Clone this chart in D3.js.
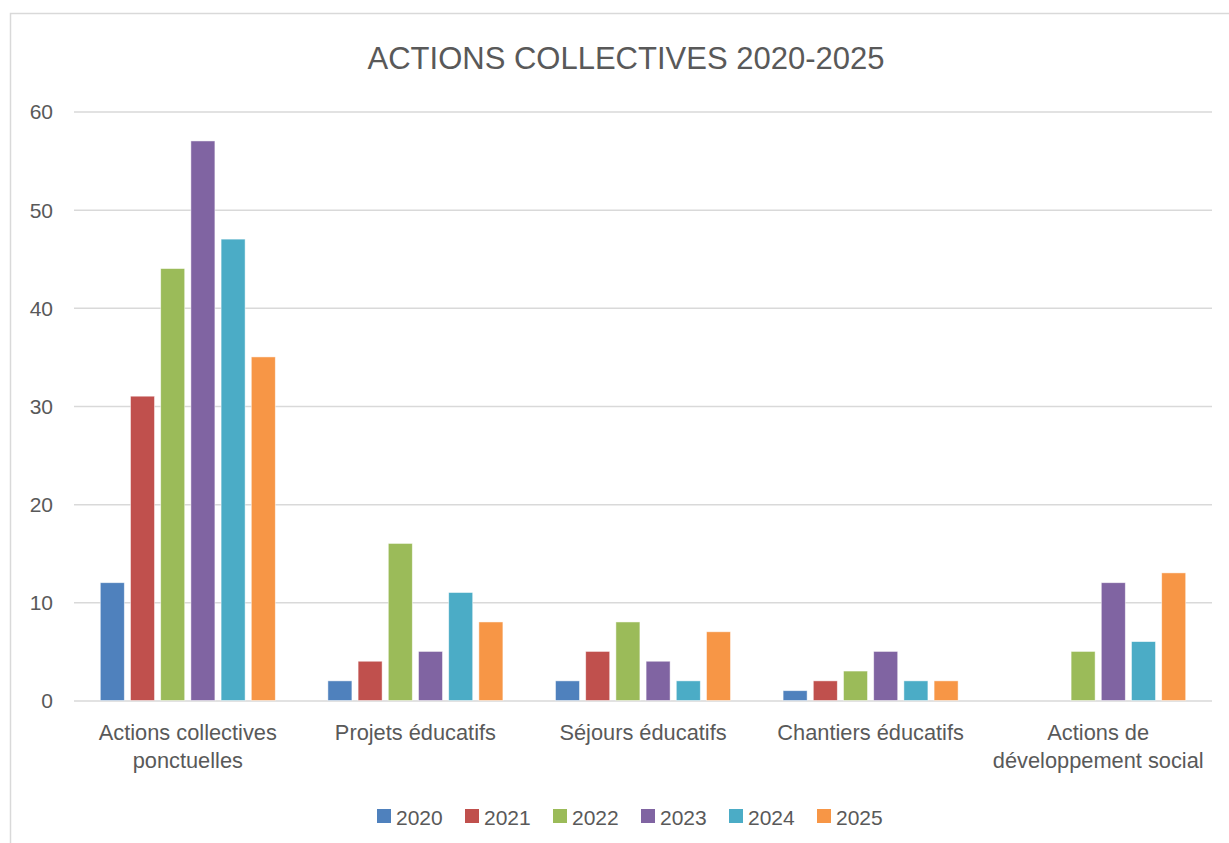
<!DOCTYPE html>
<html><head><meta charset="utf-8">
<script src="https://cdn.jsdelivr.net/npm/d3@7/dist/d3.min.js"></script>
<style>body{margin:0;background:#fff}svg{display:block}text{font-family:"Liberation Sans",Arial,sans-serif;fill:#595959}</style>
</head><body><svg id="c" width="1229" height="843"></svg>
<script>
const categories = [["Actions collectives","ponctuelles"],["Projets éducatifs"],["Séjours éducatifs"],["Chantiers éducatifs"],["Actions de","développement social"]];
const years = ["2020","2021","2022","2023","2024","2025"];
const colors = ["#4F81BD","#C0504D","#9BBB59","#8064A2","#4BACC6","#F79646"];
const v2020 = [12,2,2,1,null];
const v2021 = [31,4,5,2,null];
const v2022 = [44,16,8,3,5];
const v2023 = [57,5,4,5,12];
const v2024 = [47,11,2,2,6];
const v2025 = [35,8,7,2,13];
const yTicks = [0,10,20,30,40,50,60];
const title = "ACTIONS COLLECTIVES 2020-2025";

const series = [v2020,v2021,v2022,v2023,v2024,v2025];
const svg = d3.select("#c");
const catKeys = categories.map(c=>c.join(" "));
const L=74,R=1212,T=111.5,B=700.5;
svg.append("rect").attr("x",10.5).attr("y",13.5).attr("width",1240).attr("height",850)
  .attr("fill","#fff").attr("stroke","#d9d9d9").attr("stroke-width",1.5);
const y = d3.scaleLinear().domain([0,60]).range([B,T]);
const x0 = d3.scaleBand().domain(catKeys).range([L,R]);
const x1 = d3.scaleBand().domain(years).range([0,175]).paddingInner(0.205).paddingOuter(0);
const off = (x0.bandwidth()-175)/2;
const color = d3.scaleOrdinal().domain(years).range(colors);

svg.append("text").attr("x",626).attr("y",69).attr("text-anchor","middle")
  .style("font-size","31px").text(title);

const yAxis = svg.append("g").attr("transform",`translate(${L},0)`)
  .call(d3.axisLeft(y).tickValues(yTicks).tickSize(-(R-L)).tickPadding(0).tickFormat(d3.format("d")));
yAxis.select(".domain").remove();
yAxis.selectAll(".tick line").attr("stroke","#d9d9d9").attr("stroke-width",1.5);
yAxis.selectAll(".tick text").attr("x",-21).attr("dy","0.35em").style("font-size","21px").attr("fill","#595959");

const g = svg.append("g");
years.forEach((yr,si)=>{
  g.selectAll(null).data(catKeys.map((k,i)=>({k,v:series[si][i]})).filter(d=>d.v!=null))
   .enter().append("rect")
   .attr("x",d=>x0(d.k)+off+x1(yr)).attr("width",x1.bandwidth())
   .attr("y",d=>y(d.v)).attr("height",d=>y(0)-y(d.v))
   .attr("fill",color(yr)).attr("stroke","#ffffff").attr("stroke-opacity",0.6).attr("stroke-width",0.8);
});

const xAxis = svg.append("g").attr("transform",`translate(0,${B})`)
  .call(d3.axisBottom(x0).tickSize(0).tickFormat(()=>""));
xAxis.select(".domain").remove();
xAxis.selectAll(".tick").each(function(k,i){
  const t = d3.select(this).select("text").text(null).attr("y",0).attr("dy",null).style("font-size","21.8px");
  categories[i].forEach((line,j)=>{
    t.append("tspan").attr("x",0).attr("y",39+j*28).text(line);
  });
});

const leg = svg.append("g");
years.forEach((yr,i)=>{
  const lx = 377 + i*88;
  leg.append("rect").attr("x",lx).attr("y",809).attr("width",14).attr("height",14).attr("fill",color(yr));
  leg.append("text").attr("x",lx+19).attr("y",824.5).style("font-size","21px").text(yr);
});
</script></body></html>
